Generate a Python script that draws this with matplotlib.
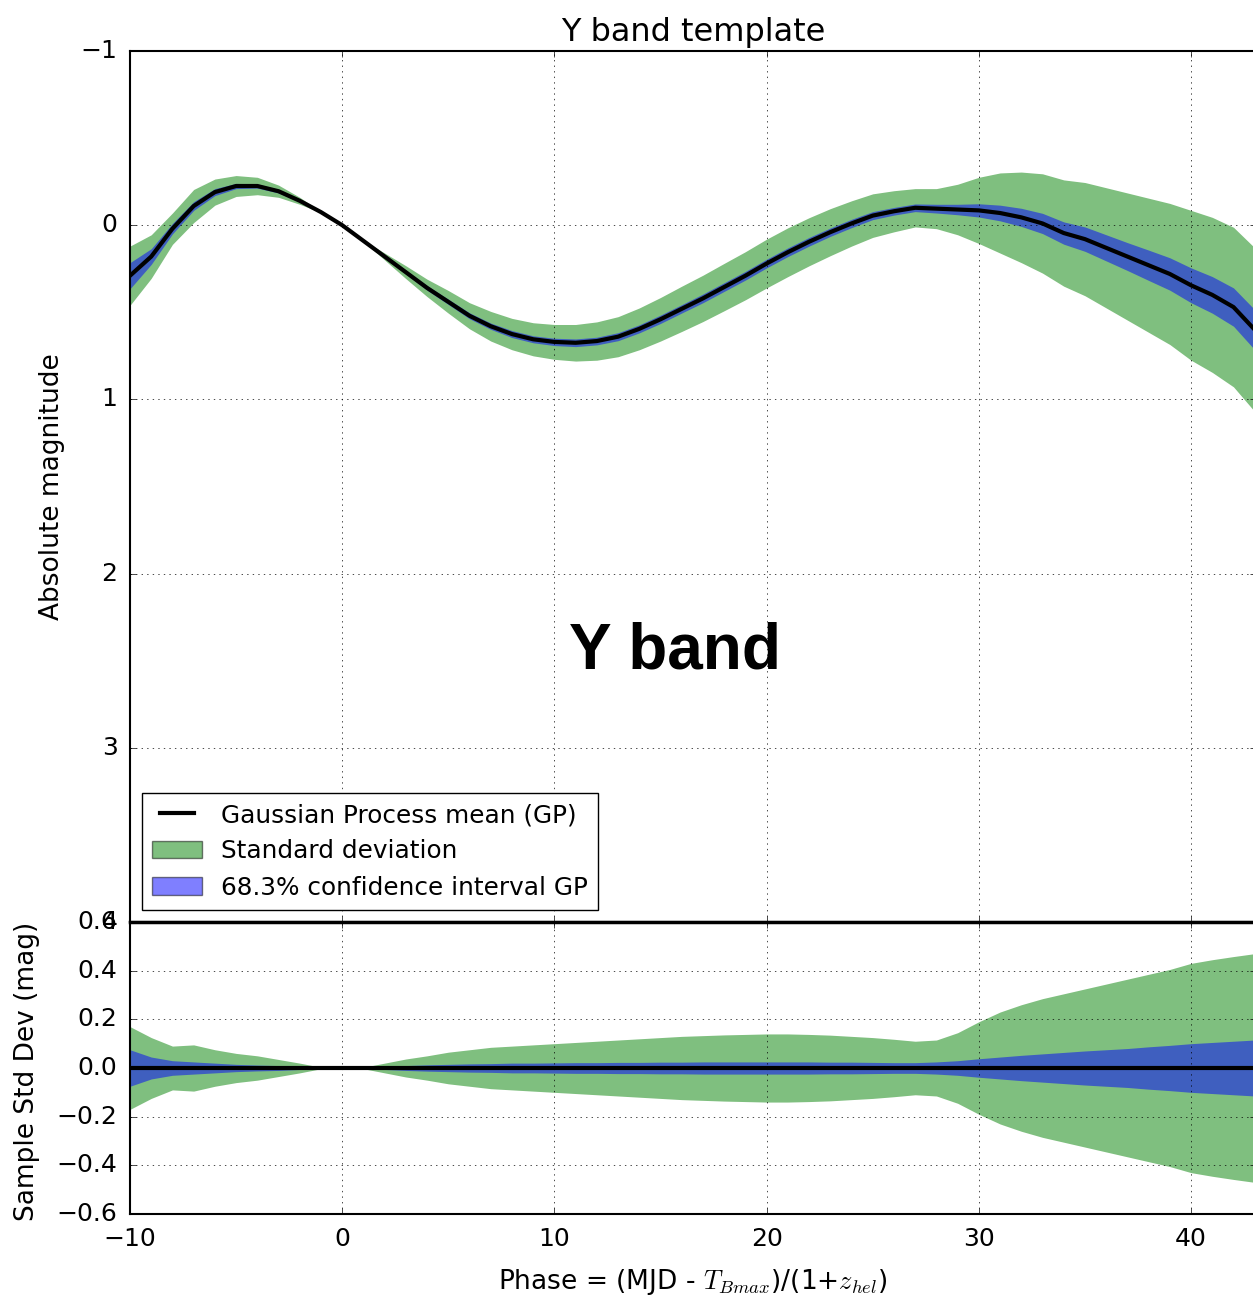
import matplotlib
matplotlib.use("Agg")
import numpy as np
import matplotlib.pyplot as plt
import matplotlib.patches as mpatches
from matplotlib.lines import Line2D

plt.style.use("classic")
plt.rcParams["axes.linewidth"] = 1.5

# phase grid (days) and template values
phase = [-10, -9, -8, -7, -6, -5, -4, -3, -2, -1, 0, 1, 2, 3, 4, 5, 6, 7, 8, 9,
         10, 11, 12, 13, 14, 15, 16, 17, 18, 19, 20, 21, 22, 23, 24, 25, 26, 27,
         28, 29, 30, 31, 32, 33, 34, 35, 36, 37, 38, 39, 40, 41, 42, 43]

gp_mean = [0.29, 0.18, 0.02, -0.11, -0.19, -0.225, -0.225, -0.195, -0.14, -0.075,
           0.0, 0.09, 0.18, 0.27, 0.36, 0.44, 0.52, 0.58, 0.625, 0.655,
           0.67, 0.675, 0.665, 0.64, 0.595, 0.54, 0.48, 0.42, 0.355, 0.29,
           0.22, 0.155, 0.095, 0.04, -0.01, -0.055, -0.08, -0.10, -0.095, -0.09,
           -0.085, -0.07, -0.045, -0.01, 0.045, 0.08, 0.13, 0.18, 0.23, 0.28,
           0.345, 0.40, 0.47, 0.60]

std_dev = [0.17, 0.125, 0.09, 0.095, 0.075, 0.06, 0.05, 0.035, 0.02, 0.003,
           0.0, 0.003, 0.02, 0.037, 0.05, 0.065, 0.075, 0.085, 0.09, 0.095,
           0.10, 0.105, 0.11, 0.115, 0.12, 0.125, 0.13, 0.133, 0.136, 0.138,
           0.14, 0.14, 0.138, 0.135, 0.13, 0.125, 0.118, 0.11, 0.115, 0.145,
           0.19, 0.23, 0.26, 0.285, 0.305, 0.325, 0.345, 0.365, 0.385, 0.405,
           0.43, 0.445, 0.458, 0.47]

conf_gp = [0.075, 0.045, 0.03, 0.025, 0.02, 0.015, 0.012, 0.01, 0.006, 0.002,
           0.0, 0.002, 0.006, 0.01, 0.013, 0.015, 0.017, 0.018, 0.02, 0.02,
           0.021, 0.022, 0.022, 0.023, 0.023, 0.024, 0.024, 0.025, 0.025, 0.025,
           0.025, 0.025, 0.025, 0.024, 0.024, 0.023, 0.022, 0.022, 0.025, 0.03,
           0.038, 0.045, 0.052, 0.058, 0.064, 0.07, 0.075, 0.08, 0.087, 0.093,
           0.10, 0.105, 0.11, 0.115]

x = np.array(phase)
mu = np.array(gp_mean)
sd = np.array(std_dev)
ci = np.array(conf_gp)

W, H = 1253, 1297
fig = plt.figure(figsize=(W / 100, H / 100), dpi=100)
left = 130 / W
width = (1256 - 130) / W
ax1 = fig.add_axes([left, 1 - 922 / H, width, (922 - 51) / H])
ax2 = fig.add_axes([left, 1 - 1214 / H, width, (1214 - 922) / H])

# upper panel: template
ax1.fill_between(x, mu - sd, mu + sd, facecolor="g", alpha=0.5, linewidth=0)
ax1.fill_between(x, mu - ci, mu + ci, facecolor="b", alpha=0.5, linewidth=0)
ax1.plot(x, mu, color="k", lw=3)
ax1.set_xlim(-10, 43.06)
ax1.set_ylim(4, -1)
ax1.set_xticks([-10, 0, 10, 20, 30, 40])
ax1.set_yticks([-1, 0, 1, 2, 3, 4])
ax1.tick_params(labelbottom=False, labelsize=18, pad=9)
ax1.grid(True)
ax1.set_title("Y band template", fontsize=23, y=1.003)
ax1.set_ylabel("Absolute magnitude", fontsize=19)
ax1.yaxis.set_label_coords(-0.058, 0.5)
ax1.text(15.7, 2.45, "Y band", fontsize=46, fontweight="bold",
         family="Liberation Sans", ha="center", va="center")

handles = [Line2D([], [], color="k", lw=3),
           mpatches.Patch(facecolor="g", edgecolor="k", alpha=0.5),
           mpatches.Patch(facecolor="b", edgecolor="k", alpha=0.5)]
labels = ["Gaussian Process mean (GP)", "Standard deviation",
          "68.3% confidence interval GP"]
ax1.legend(handles, labels, loc="lower left", fontsize=17.8)

# lower panel: sample std dev around the mean
ax2.fill_between(x, -sd, sd, facecolor="g", alpha=0.5, linewidth=0)
ax2.fill_between(x, -ci, ci, facecolor="b", alpha=0.5, linewidth=0)
ax2.plot(x, np.zeros_like(x), color="k", lw=3)
ax2.set_xlim(-10, 43.06)
ax2.set_ylim(-0.6, 0.6)
ax2.set_xticks([-10, 0, 10, 20, 30, 40])
ax2.set_yticks([-0.6, -0.4, -0.2, 0.0, 0.2, 0.4, 0.6])
ax2.tick_params(labelsize=18, pad=9)
ax2.spines["top"].set_linewidth(2.5)
ax2.grid(True)
ax2.set_ylabel("Sample Std Dev (mag)", fontsize=19)
ax2.yaxis.set_label_coords(-0.08, 0.49)
ax2.set_xlabel(r"Phase = (MJD - $T_{Bmax}$)/(1+$z_{hel}$)", fontsize=19, labelpad=12)

fig.savefig("out.png", dpi=100)
